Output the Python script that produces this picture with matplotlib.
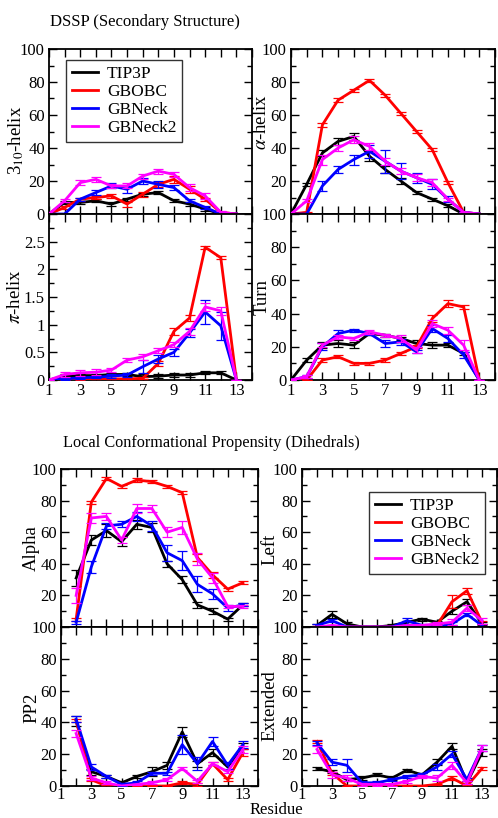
import matplotlib
matplotlib.use("Agg")
import matplotlib.pyplot as plt
from matplotlib.lines import Line2D
from matplotlib.ticker import FixedLocator, MultipleLocator, FuncFormatter

plt.rcParams["font.family"] = ["Liberation Serif", "DejaVu Serif"]
plt.rcParams["mathtext.fontset"] = "stix"

# ---------------- data ----------------
series_names = ["TIP3P", "GBOBC", "GBNeck", "GBNeck2"]
series_colors = ["#000000", "#ff0000", "#0000ff", "#ff00ff"]

res_dssp = [1, 2, 3, 4, 5, 6, 7, 8, 9, 10, 11, 12, 13]
res_dih = [2, 3, 4, 5, 6, 7, 8, 9, 10, 11, 12, 13]

# 3-10 helix (%)
h310_tip3p = [0, 7, 7, 8, 6, 9, 12, 13, 8, 6, 3, 0, 0]
h310_gbobc = [0, 4, 9, 10, 11, 6, 12, 18, 21, 15, 9, 1, 0]
h310_gbneck = [0, 0, 9, 13, 17, 15, 20, 18, 16, 8, 4, 0, 0]
h310_gbneck2 = [0, 8, 19, 21, 17, 17, 23, 26, 24, 16, 11, 1, 0]
h310_err_tip3p = [0, 1, 1, 1, 1, 1, 1, 1, 1, 1, 1, 0, 0]
h310_err_gbobc = [0, 1, 1, 1, 1, 1.5, 1.5, 1.5, 2, 2, 1, 0, 0]
h310_err_gbneck = [0, 0, 1, 1.5, 1.5, 2, 2, 2, 1.5, 1, 1, 0, 0]
h310_err_gbneck2 = [0, 1, 1.5, 1.5, 1, 1.5, 1.5, 1.5, 1.5, 2, 2, 1, 0]

# alpha helix (%)
ah_tip3p = [0, 18, 37, 44, 47, 35, 27, 20, 13, 9, 5, 0, 0]
ah_gbobc = [0, 1, 54, 69, 75, 81, 72, 61, 50, 39, 19, 1, 0]
ah_gbneck = [0, 0, 17, 27, 33, 38, 32, 26, 22, 18, 9, 1, 0]
ah_gbneck2 = [0, 8, 33, 40, 45, 41, 32, 26, 22, 19, 9, 1, 0]
ah_err_tip3p = [0, 1, 2, 2, 2, 3, 2, 2, 1, 1, 1, 0, 0]
ah_err_gbobc = [0, 0.5, 1, 1, 1, 1, 1, 1, 1, 1, 1, 0.5, 0]
ah_err_gbneck = [0, 0, 3, 2, 3, 4, 7, 5, 3, 3, 2, 0, 0]
ah_err_gbneck2 = [0, 1, 3, 2, 2, 2, 2, 2, 2, 2, 1, 0.5, 0]

# pi helix (%)
pi_tip3p = [0, 0.07, 0.08, 0.08, 0.10, 0.10, 0.06, 0.07, 0.09, 0.09, 0.13, 0.13, 0]
pi_gbobc = [0, 0.01, 0.01, 0.02, 0.02, 0.02, 0.03, 0.30, 0.88, 1.12, 2.40, 2.21, 0]
pi_gbneck = [0, 0.02, 0.04, 0.05, 0.07, 0.09, 0.24, 0.38, 0.50, 0.85, 1.23, 0.98, 0]
pi_gbneck2 = [0, 0.10, 0.13, 0.14, 0.18, 0.36, 0.42, 0.53, 0.64, 0.88, 1.32, 1.25, 0]
pi_err_tip3p = [0, 0.03, 0.03, 0.03, 0.03, 0.03, 0.04, 0.04, 0.03, 0.03, 0.03, 0.03, 0]
pi_err_gbobc = [0, 0.01, 0.01, 0.01, 0.01, 0.01, 0.02, 0.05, 0.06, 0.05, 0.03, 0.03, 0]
pi_err_gbneck = [0, 0.02, 0.02, 0.02, 0.03, 0.04, 0.12, 0.07, 0.06, 0.08, 0.22, 0.25, 0]
pi_err_gbneck2 = [0, 0.04, 0.05, 0.05, 0.04, 0.04, 0.05, 0.04, 0.05, 0.06, 0.08, 0.07, 0]

# turn (%)
turn_tip3p = [0, 12, 21, 22, 21, 28, 27, 25, 22, 21, 21, 16, 0]
turn_gbobc = [0, 0, 12, 14, 10, 10, 12, 16, 20, 37, 46, 44, 0]
turn_gbneck = [0, 2, 20, 28, 30, 28, 22, 23, 17, 31, 25, 15, 0]
turn_gbneck2 = [0, 2, 21, 26, 25, 29, 27, 25, 18, 34, 30, 21, 0]
turn_err_tip3p = [0, 1, 2, 2, 2, 1, 1, 1, 2, 2, 1, 1, 0]
turn_err_gbobc = [0, 0, 1, 1, 1, 1, 1, 1, 1, 2, 2, 1, 0]
turn_err_gbneck = [0, 1, 2, 2, 1, 1, 2, 2, 1, 2, 2, 2, 0]
turn_err_gbneck2 = [0, 1, 1, 1, 1, 1, 1, 2, 2, 2, 2, 3, 0]

# alpha dihedral region (%)
alpha_tip3p = [31, 55, 61, 54, 65, 63, 40, 30, 14, 10, 5, 14]
alpha_gbobc = [5, 79, 94, 89, 93, 92, 89, 85, 44, 33, 24, 28]
alpha_gbneck = [3, 38, 64, 65, 70, 64, 47, 42, 27, 21, 12, 14]
alpha_gbneck2 = [20, 69, 70, 55, 75, 75, 60, 63, 43, 31, 13, 13]
alpha_err_tip3p = [5, 3, 4, 3, 3, 3, 2, 2, 2, 2, 1, 1]
alpha_err_gbobc = [1, 1, 1, 1, 1, 1, 1, 1, 2, 2, 1, 1]
alpha_err_gbneck = [1, 4, 2, 2, 3, 3, 5, 6, 5, 3, 2, 1]
alpha_err_gbneck2 = [5, 3, 2, 2, 3, 2, 3, 4, 4, 3, 1, 1]

# left-handed region (%)
left_tip3p = [1, 8, 2, 0, 0, 1, 3, 5, 3, 10, 16, 2]
left_gbobc = [0, 0, 0, 0, 0, 0, 0, 0, 1, 16, 23, 3]
left_gbneck = [1, 4, 0, 0, 0, 0, 4, 1, 0, 2, 8, 1]
left_gbneck2 = [0, 1, 0, 0, 0, 0, 1, 1, 2, 3, 12, 4]
left_err_tip3p = [1, 2, 1, 0.5, 0.5, 1, 1, 1, 1, 2, 2, 1]
left_err_gbobc = [0.5, 0.5, 0, 0, 0, 0, 0, 0, 1, 4, 2, 1]
left_err_gbneck = [1, 1, 0.5, 0, 0, 0, 2, 1, 0.5, 1, 1, 1]
left_err_gbneck2 = [0.5, 0.5, 0, 0, 0, 0, 0.5, 0.5, 1, 2, 2, 2]

# polyproline II region (%)
pp2_tip3p = [41, 9, 6, 2, 6, 9, 13, 34, 14, 21, 12, 25]
pp2_gbobc = [41, 4, 0, 0, 0, 0, 0, 2, 1, 14, 4, 21]
pp2_gbneck = [42, 12, 6, 1, 2, 8, 8, 26, 14, 28, 13, 26]
pp2_gbneck2 = [33, 5, 2, 0, 1, 2, 4, 11, 3, 14, 9, 23]
pp2_err_tip3p = [3, 2, 1, 1, 1, 3, 2, 3, 2, 2, 2, 2]
pp2_err_gbobc = [1, 1, 0.5, 0, 0, 0, 0, 1, 1, 1, 1, 2]
pp2_err_gbneck = [2, 2, 1, 1, 1, 1, 1, 6, 4, 3, 2, 2]
pp2_err_gbneck2 = [2, 1, 1, 0.5, 0.5, 1, 1, 1, 1, 1, 1, 2]

# extended region (%)
ext_tip3p = [11, 9, 4, 5, 7, 5, 10, 7, 15, 25, 2, 21]
ext_gbobc = [28, 8, 0, 0, 0, 0, 0, 0, 1, 5, 0, 11]
ext_gbneck = [27, 15, 13, 2, 2, 4, 6, 7, 12, 20, 4, 24]
ext_gbneck2 = [23, 7, 5, 1, 1, 1, 3, 6, 5, 13, 2, 24]
ext_err_tip3p = [1, 1, 1, 1, 1, 1, 1, 1, 2, 2, 1, 2]
ext_err_gbobc = [1, 1, 0, 0, 0, 0, 0, 0, 0.5, 1, 0.5, 1]
ext_err_gbneck = [1, 2, 4, 1, 1, 1, 1, 1, 2, 2, 1, 2]
ext_err_gbneck2 = [2, 2, 2, 1, 1, 1, 1, 1, 2, 2, 1, 2]

# ---------------- figure ----------------
W, H = 498, 818
fig = plt.figure(figsize=(W / 100, H / 100), dpi=100)


def add_ax(left, right, top, bottom):
    return fig.add_axes([left / W, 1 - bottom / H, (right - left) / W, (bottom - top) / H])


def style(ax, ymax, ymajor, yminor, show_x, hide_top=False, hide_bottom=False, xpad=2):
    ax.set_xlim(1, 14)
    ax.set_ylim(0, ymax)
    ax.xaxis.set_major_locator(FixedLocator([1, 3, 5, 7, 9, 11, 13]))
    ax.xaxis.set_minor_locator(FixedLocator(list(range(1, 15))))
    ax.yaxis.set_major_locator(MultipleLocator(ymajor))
    ax.yaxis.set_minor_locator(MultipleLocator(yminor))

    def fmt(v, pos):
        if hide_top and abs(v - ymax) < 1e-9:
            return ""
        if hide_bottom and abs(v) < 1e-9:
            return ""
        return "%g" % v

    ax.yaxis.set_major_formatter(FuncFormatter(fmt))
    ax.tick_params(which="both", direction="in", top=True, right=True,
                   width=1.0, labelsize=12, pad=3)
    ax.tick_params(axis="x", which="both", pad=xpad)
    ax.tick_params(axis="y", which="major", length=6)
    ax.tick_params(axis="y", which="minor", length=3.5)
    ax.tick_params(axis="x", which="both", length=6)
    if not show_x:
        ax.tick_params(axis="x", labelbottom=False)
    for s in ax.spines.values():
        s.set_linewidth(1.3)


def draw(ax, x, ys, errs):
    for i, (y, e) in enumerate(zip(ys, errs)):
        ax.errorbar(x, y, yerr=e, color=series_colors[i], lw=2.0,
                    elinewidth=0.9, capsize=3.5, capthick=0.9, zorder=2 + i)


def ylab(text, cx, cy, size=13.5):
    fig.text(cx / W, 1 - cy / H, text, rotation=90, ha="center", va="center",
             fontsize=size)


# DSSP panels
ax1 = add_ax(49, 252, 49, 214)
ax2 = add_ax(49, 252, 214, 380)
ax3 = add_ax(291, 495, 49, 214)
ax4 = add_ax(291, 495, 214, 380)

draw(ax1, res_dssp, [h310_tip3p, h310_gbobc, h310_gbneck, h310_gbneck2],
     [h310_err_tip3p, h310_err_gbobc, h310_err_gbneck, h310_err_gbneck2])
draw(ax2, res_dssp, [pi_tip3p, pi_gbobc, pi_gbneck, pi_gbneck2],
     [pi_err_tip3p, pi_err_gbobc, pi_err_gbneck, pi_err_gbneck2])
draw(ax3, res_dssp, [ah_tip3p, ah_gbobc, ah_gbneck, ah_gbneck2],
     [ah_err_tip3p, ah_err_gbobc, ah_err_gbneck, ah_err_gbneck2])
draw(ax4, res_dssp, [turn_tip3p, turn_gbobc, turn_gbneck, turn_gbneck2],
     [turn_err_tip3p, turn_err_gbobc, turn_err_gbneck, turn_err_gbneck2])

style(ax1, 100, 20, 10, False)
style(ax2, 3, 0.5, 0.25, True, hide_top=True)
style(ax3, 100, 20, 10, False, hide_bottom=True)
style(ax4, 100, 20, 10, True)

# Dihedral panels
ax5 = add_ax(61, 258, 469, 627)
ax6 = add_ax(61, 258, 627, 786)
ax7 = add_ax(302, 497, 469, 627)
ax8 = add_ax(302, 497, 627, 786)

draw(ax5, res_dih, [alpha_tip3p, alpha_gbobc, alpha_gbneck, alpha_gbneck2],
     [alpha_err_tip3p, alpha_err_gbobc, alpha_err_gbneck, alpha_err_gbneck2])
draw(ax6, res_dih, [pp2_tip3p, pp2_gbobc, pp2_gbneck, pp2_gbneck2],
     [pp2_err_tip3p, pp2_err_gbobc, pp2_err_gbneck, pp2_err_gbneck2])
draw(ax7, res_dih, [left_tip3p, left_gbobc, left_gbneck, left_gbneck2],
     [left_err_tip3p, left_err_gbobc, left_err_gbneck, left_err_gbneck2])
draw(ax8, res_dih, [ext_tip3p, ext_gbobc, ext_gbneck, ext_gbneck2],
     [ext_err_tip3p, ext_err_gbobc, ext_err_gbneck, ext_err_gbneck2])

style(ax5, 100, 20, 10, False, hide_bottom=True)
style(ax6, 100, 20, 10, True, xpad=1)
style(ax7, 100, 20, 10, False, hide_bottom=True)
style(ax8, 100, 20, 10, True, xpad=1)

# legends with plain line handles
handles = [Line2D([], [], color=c, lw=2.0) for c in series_colors]
legend_kw = dict(loc="upper left", frameon=True, fancybox=False, edgecolor="black",
                 fontsize=12.5, labelspacing=0.1, handlelength=1.5,
                 handletextpad=0.5, borderpad=0.35, borderaxespad=0)
for ax, anchor in ((ax1, (0.084, 0.933)), (ax7, (0.344, 0.854))):
    leg = ax.legend(handles, series_names, bbox_to_anchor=anchor, **legend_kw)
    leg.get_frame().set_linewidth(1.0)

# axis labels
ylab(r"3$_{10}$-helix", 16, 140)
ylab(r"$\pi$-helix", 16, 297)
ylab(r"$\alpha$-helix", 261, 122)
ylab("Turn", 262, 297)
ylab("Alpha", 31, 548)
ylab("PP2", 32, 708)
ylab("Left", 270, 549)
ylab("Extended", 270, 706)

fig.text(276 / W, 1 - 814 / H, "Residue", ha="center", va="baseline", fontsize=12)

# group titles
fig.text(50 / W, 1 - 22 / H, "DSSP (Secondary Structure)", ha="left", va="center",
         fontsize=12)
fig.text(63 / W, 1 - 443 / H, "Local Conformational Propensity (Dihedrals)",
         ha="left", va="center", fontsize=11.7)

fig.savefig("out.png", dpi=100)
